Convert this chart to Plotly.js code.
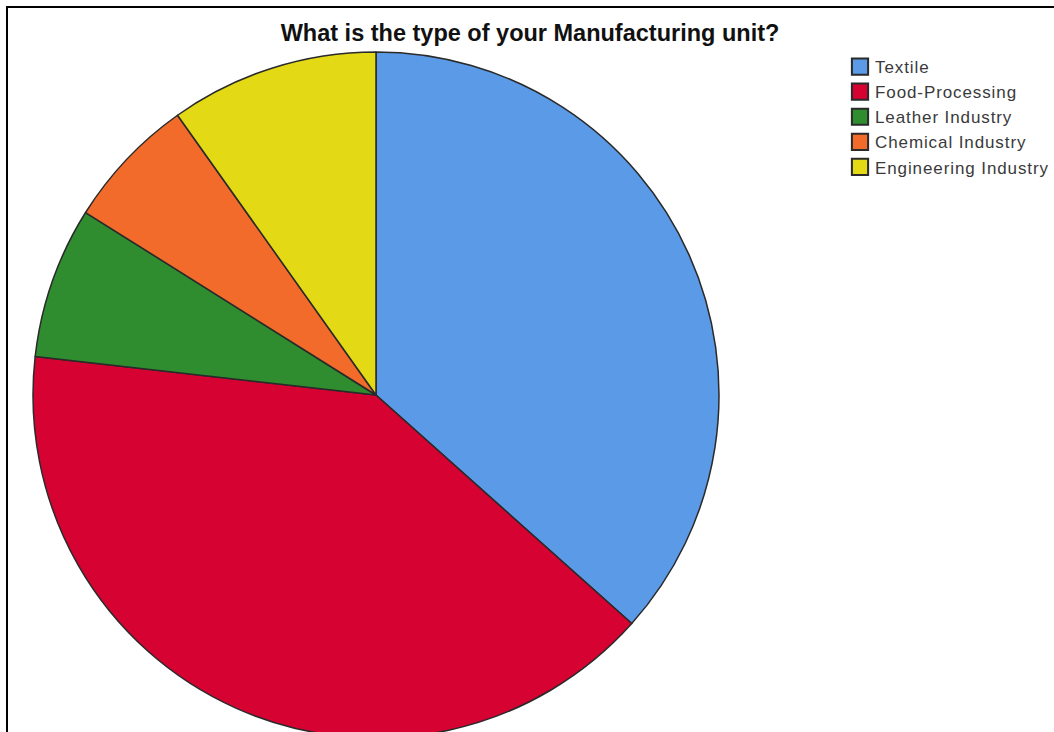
<!DOCTYPE html>
<html>
<head>
<meta charset="utf-8">
<script src="https://cdn.plot.ly/plotly-3.0.1.min.js"></script>
<style>
html, body { margin: 0; padding: 0; background: #fff; overflow: hidden; width: 1054px; height: 732px; }
#chart { position: absolute; left: 0; top: 0; width: 1054px; height: 760px; }
#frame { position: absolute; left: 6px; top: 6px; width: 1060px; height: 740px; border-left: 2px solid #000; border-top: 2px solid #000; pointer-events: none; }
#chart .legendtext { letter-spacing: 0.9px; }
</style>
</head>
<body>
<div id="chart"></div>
<div id="frame"></div>
<script>
const categories = ["Textile", "Food-Processing", "Leather Industry", "Chemical Industry", "Engineering Industry"];
const counts = [41, 45, 8, 7, 11];
const sliceColors = ["#5A9AE6", "#D60232", "#2F8C2F", "#F26B2B", "#E3D915"];
const chartTitle = "What is the type of your Manufacturing unit?";

const W = 1054, H = 760;
const cx = 376, cy = 395, r = 343;

const data = [{
  type: "pie",
  labels: categories,
  values: counts,
  sort: false,
  direction: "clockwise",
  rotation: 0,
  textinfo: "none",
  hoverinfo: "label+value+percent",
  marker: { colors: sliceColors, line: { color: "#2a2a2a", width: 1.5 } },
  domain: { x: [(cx - r) / W, (cx + r) / W], y: [1 - (cy + r) / H, 1 - (cy - r) / H] }
}];

const layout = {
  width: W,
  height: H,
  margin: { l: 0, r: 0, t: 0, b: 0 },
  paper_bgcolor: "#ffffff",
  title: {
    text: "<b>" + chartTitle + "</b>",
    x: 530 / W,
    xanchor: "center",
    xref: "paper",
    y: 1 - 33 / H,
    yref: "container",
    yanchor: "middle",
    font: { family: "Liberation Sans, Arial, sans-serif", size: 23.5, color: "#111" }
  },
  showlegend: true,
  legend: {
    x: 835 / W,
    xanchor: "left",
    y: 1 - 49 / H,
    yanchor: "top",
    font: { family: "Liberation Sans, Arial, sans-serif", size: 17, color: "#3a3a3a" },
    bgcolor: "rgba(0,0,0,0)",
    tracegroupgap: 0
  }
};

Plotly.newPlot("chart", data, layout, { staticPlot: true }).then(function () {
  document.querySelectorAll("#chart .legend path.legendpie").forEach(function (p) {
    p.setAttribute("transform", "translate(25,0) scale(1.35)");
  });
  document.querySelectorAll("#chart .legend [clip-path]").forEach(function (e) {
    e.removeAttribute("clip-path");
  });
});
</script>
</body>
</html>
